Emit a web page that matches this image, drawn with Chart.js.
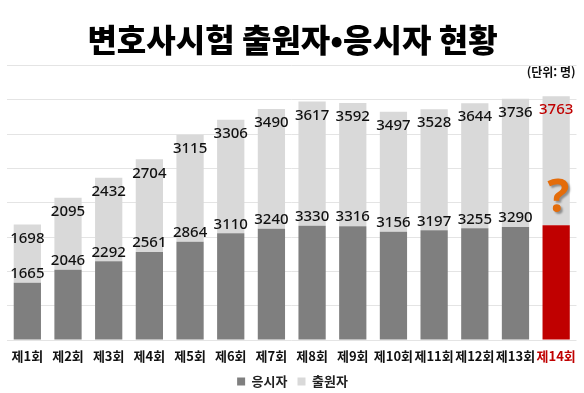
<!DOCTYPE html>
<html lang="ko">
<head>
<meta charset="utf-8">
<script src="https://cdn.jsdelivr.net/npm/chart.js@4/dist/chart.umd.min.js"></script>
<style>
  html, body { margin: 0; padding: 0; background: #fff; }
  #wrap { width: 584px; height: 393px; position: relative; }
</style>
</head>
<body>
<div id="wrap"><canvas id="examChart"></canvas></div>
<script>
/* ================= DATA ================= */
const categories = ["제1회", "제2회", "제3회", "제4회", "제5회", "제6회", "제7회",
  "제8회", "제9회", "제10회", "제11회", "제12회", "제13회", "제14회"];

// 응시자 (the 14th is not known yet; bar height, shown as "?")
const takers = [1665, 2046, 2292, 2561, 2864, 3110, 3240, 3330, 3316, 3156, 3197, 3255, 3290, 3340];
const takerLabels = ["1665", "2046", "2292", "2561", "2864", "3110", "3240",
  "3330", "3316", "3156", "3197", "3255", "3290", "?"];

// 출원자
const applicants = [1698, 2095, 2432, 2704, 3115, 3306, 3490, 3617, 3592, 3497, 3528, 3644, 3736, 3763];

const yMax = 8000;
const yStep = 1000;

const seriesNames = ["응시자", "출원자"];
const titleText = "변호사시험 출원자•응시자 현황";
const unitText = "(단위: 명)";

/* ================= COLOURS ================= */
const DARK = "#7f7f7f";
const LIGHT = "#d9d9d9";
const RED = "#c00000";
const lastIdx = categories.length - 1;

const takerColors = categories.map((c, i) => i === lastIdx ? RED : DARK);

/* ================= LABEL PLUGIN ================= */
const valueLabels = {
  id: "valueLabels",
  afterDatasetsDraw(chart) {
    const ctx = chart.ctx;
    ctx.save();
    ctx.textAlign = "center";
    ctx.textBaseline = "middle";

    // 응시자: just above the dark segment
    chart.getDatasetMeta(0).data.forEach((bar, i) => {
      const txt = takerLabels[i];
      if (txt === "?") {
        ctx.save();
        ctx.font = "bold 46px 'Noto Sans', sans-serif";
        ctx.fillStyle = "#e46c0a";
        ctx.shadowColor = "rgba(0,0,0,0.35)";
        ctx.shadowOffsetX = 2;
        ctx.shadowOffsetY = 2;
        ctx.shadowBlur = 2;
        ctx.fillText(txt, bar.x + 2, bar.y - 26);
        ctx.restore();
      } else {
        ctx.font = "500 15px 'Noto Sans', sans-serif";
        ctx.fillStyle = "#111";
        ctx.fillText(txt, bar.x, bar.y - 9);
      }
    });

    // 출원자: inside the top of the light segment
    chart.getDatasetMeta(1).data.forEach((bar, i) => {
      ctx.font = "500 15px 'Noto Sans', sans-serif";
      ctx.fillStyle = i === lastIdx ? RED : "#111";
      ctx.fillText(String(applicants[i]), bar.x, bar.y + 14);
    });

    // unit note
    ctx.font = "bold 12px 'Noto Sans CJK KR', sans-serif";
    ctx.fillStyle = "#111";
    ctx.textAlign = "right";
    ctx.fillText(unitText, chart.chartArea.right - 1, chart.chartArea.top + 7);
    ctx.restore();
  }
};

/* ================= CHART ================= */
new Chart(document.getElementById("examChart"), {
  type: "bar",
  data: {
    labels: categories,
    datasets: [{
      label: seriesNames[0],
      data: takers,
      backgroundColor: takerColors,
      stack: "s"
    }, {
      label: seriesNames[1],
      data: applicants,
      backgroundColor: LIGHT,
      stack: "s"
    }]
  },
  options: {
    responsive: true,
    maintainAspectRatio: false,
    animation: false,
    layout: { padding: { left: 7, right: 6, top: 0, bottom: 0 } },
    datasets: {
      bar: { categoryPercentage: 1, barPercentage: 0.67 }
    },
    scales: {
      x: {
        stacked: true,
        grid: { display: false, drawTicks: false },
        border: { display: false },
        afterFit: scale => { scale.height = 25; },
        ticks: {
          autoSkip: false,
          maxRotation: 0,
          padding: 8,
          font: { family: "'Noto Sans CJK KR', sans-serif", size: 13, weight: "bold" },
          color: ctx => ctx.index === lastIdx ? RED : "#111"
        }
      },
      y: {
        stacked: true,
        min: 0,
        max: yMax,
        ticks: { display: false, stepSize: yStep },
        border: { display: false },
        grid: { color: "#e4e4e4", drawTicks: false, lineWidth: 1 }
      }
    },
    plugins: {
      title: {
        display: true,
        text: titleText,
        color: "#000",
        font: { family: "'Noto Sans CJK KR', sans-serif", size: 32, weight: "900" },
        padding: { top: 21, bottom: 6 }
      },
      legend: {
        position: "bottom",
        maxHeight: 28,
        labels: {
          boxWidth: 8,
          boxHeight: 8,
          padding: 10,
          color: "#222",
          font: { family: "'Noto Sans CJK KR', sans-serif", size: 13, weight: "bold" }
        }
      },
      tooltip: { enabled: false }
    }
  },
  plugins: [valueLabels]
});
</script>
</body>
</html>
